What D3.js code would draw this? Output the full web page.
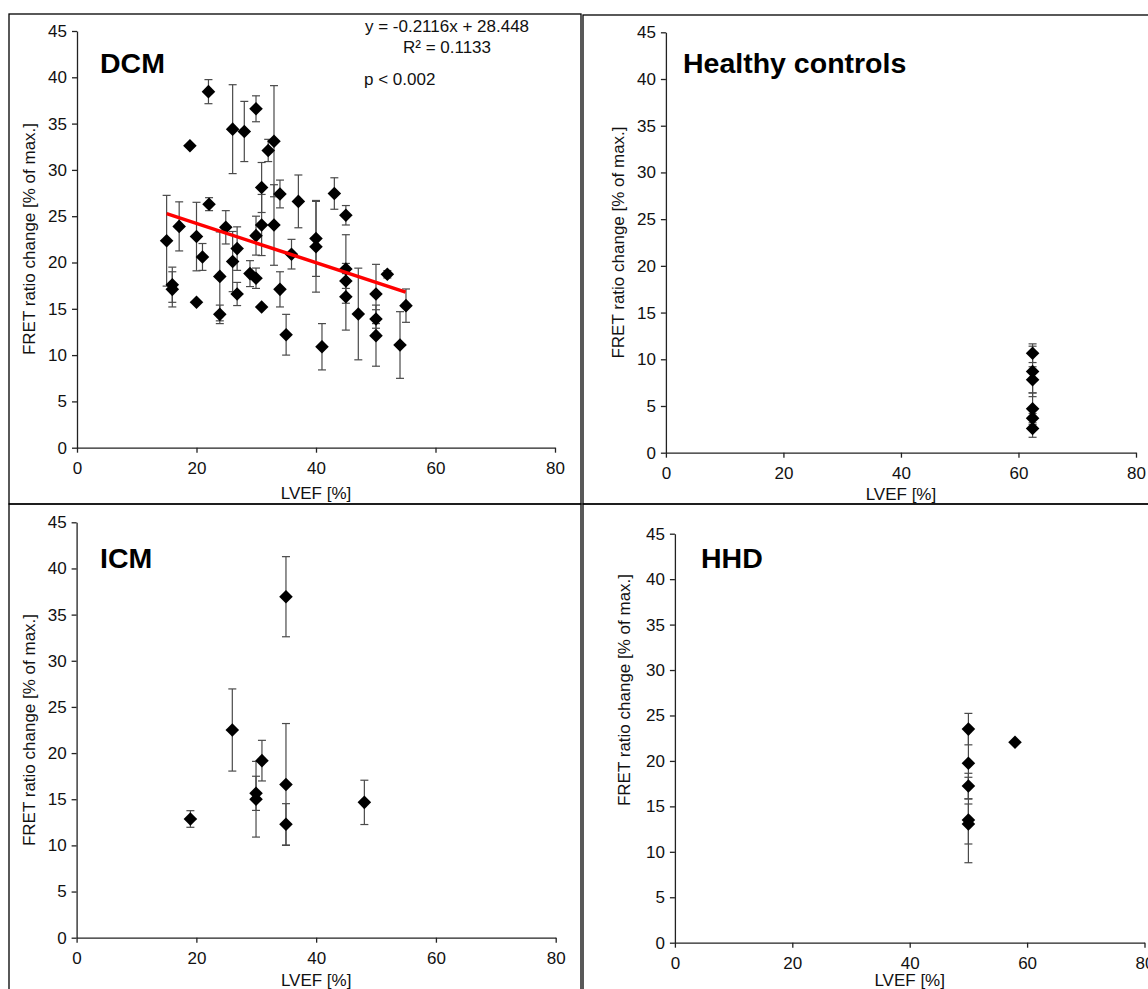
<!DOCTYPE html>
<html>
<head>
<meta charset="utf-8">
<script src="https://cdn.jsdelivr.net/npm/d3@7"></script>
<style>
  body { margin: 0; background: #fff; }
  svg { display: block; font-family: "Liberation Sans", Arial, sans-serif; }
</style>
</head>
<body>
<svg id="chart" width="1148" height="989"></svg>
<script>
// Tick values shared by all four panels
var xTicks = [0, 20, 40, 60, 80];
var yTicks = [0, 5, 10, 15, 20, 25, 30, 35, 40, 45];

// DCM: LVEF [%], FRET ratio change [% of max.], error bar half-length
var dcmLvef = [15.0, 15.95, 15.95, 17.1, 18.9, 20.0, 20.0, 21.0, 22.0, 22.1, 23.9, 23.9,
  24.9, 26.05, 26.05, 26.8, 26.8, 28.0, 28.95, 29.96, 29.96, 29.96, 30.9, 30.9, 30.9,
  32.0, 32.97, 32.97, 33.97, 33.97, 35.0, 35.9, 37.05, 40.0, 40.0, 41.0, 43.07, 45.0,
  45.0, 45.0, 45.0, 47.08, 50.04, 50.04, 50.04, 51.94, 54.06, 55.06];
var dcmFret = [22.35, 17.6, 17.1, 23.9, 32.6, 22.8, 15.7, 20.6, 38.45, 26.3, 18.5, 14.4,
  23.8, 34.4, 20.1, 21.5, 16.6, 34.15, 18.8, 36.6, 22.9, 18.3, 28.1, 24.05, 15.2,
  32.1, 33.1, 24.05, 27.4, 17.1, 12.2, 20.9, 26.6, 22.6, 21.7, 10.9, 27.45, 25.1,
  19.3, 18.0, 16.3, 14.44, 16.6, 13.9, 12.1, 18.73, 11.09, 15.34];
var dcmErr = [4.9, 1.9, 1.9, 2.65, 0, 3.7, 0, 1.45, 1.3, 0.7, 4.8, 1.0,
  1.8, 4.8, 3.25, 2.35, 1.25, 3.25, 1.4, 1.4, 2.1, 1.1, 2.7, 3.3, 0,
  1.2, 6.0, 4.35, 1.5, 1.9, 2.2, 1.6, 2.85, 4.1, 4.9, 2.5, 1.7, 1.05,
  3.7, 0.8, 3.6, 4.95, 3.2, 1.0, 3.3, 0.4, 3.6, 1.8];

// DCM linear fit shown on the chart
var fitSlope = -0.2116;
var fitIntercept = 28.448;
var fitRange = [15, 55];
var fitLabels = ["y = -0.2116x + 28.448", "R\u00b2 = 0.1133"];
var pLabel = "p < 0.002";

// Healthy controls
var hcLvef = [62.4, 62.4, 62.4, 62.4, 62.4, 62.4];
var hcFret = [10.65, 8.7, 7.8, 4.7, 3.7, 2.6];
var hcErr = [1.0, 2.7, 1.4, 1.7, 0.5, 0.95];

// ICM
var icmLvef = [19.0, 26.0, 29.96, 29.96, 30.95, 34.96, 34.96, 34.96, 48.05];
var icmFret = [12.86, 22.5, 15.64, 15.0, 19.18, 36.94, 16.6, 12.28, 14.66];
var icmErr = [0.9, 4.45, 1.85, 4.1, 2.2, 4.34, 6.6, 2.24, 2.4];

// HHD
var hhdLvef = [50.0, 50.0, 50.0, 50.0, 50.0, 57.94];
var hhdFret = [23.5, 19.74, 17.24, 13.5, 13.06, 22.05];
var hhdErr = [1.73, 3.93, 1.4, 4.7, 2.2, 0];

var svg = d3.select("#chart");

// Frames around the four panels
var frame = svg.append("g")
  .attr("fill", "none")
  .attr("stroke", "#000")
  .attr("stroke-width", 1.3);
frame.append("rect").attr("x", 9).attr("y", 14).attr("width", 572).attr("height", 490);
frame.append("rect").attr("x", 583).attr("y", 15).attr("width", 600).attr("height", 489);
frame.append("rect").attr("x", 9).attr("y", 504).attr("width", 572).attr("height", 520);
frame.append("rect").attr("x", 583).attr("y", 504).attr("width", 600).attr("height", 520);

// Diamond marker as a symbol type
var diamond = {
  draw: function(context, size) {
    var r = Math.sqrt(size / 2);
    context.moveTo(0, -r);
    context.lineTo(r, 0);
    context.lineTo(0, r);
    context.lineTo(-r, 0);
    context.closePath();
  }
};

var drawPanel = function(p) {
  var x = d3.scaleLinear().domain([0, 80]).range([p.x0, p.x1]);
  var y = d3.scaleLinear().domain([0, 45]).range([p.y0, p.y1]);

  var data = p.lvef.map(function(d, i) {
    return {lvef: d, fret: p.fret[i], err: p.err[i]};
  });

  var g = svg.append("g");

  // Axes
  var yAxis = g.append("g")
    .attr("transform", "translate(" + p.x0 + ",0)")
    .call(d3.axisLeft(y).tickValues(yTicks).tickSize(5).tickSizeOuter(0).tickPadding(5));
  var xAxis = g.append("g")
    .attr("transform", "translate(0," + p.y0 + ")")
    .call(d3.axisBottom(x).tickValues(xTicks).tickSize(5).tickSizeOuter(0).tickPadding(9));
  [xAxis, yAxis].forEach(function(a) {
    a.attr("font-family", null).attr("font-size", 17);
    a.select(".domain").attr("stroke", "#222").attr("stroke-width", 1.3);
    a.selectAll(".tick line").attr("stroke", "#222").attr("stroke-width", 1.3);
    a.selectAll(".tick text").attr("fill", "#111");
  });

  // Axis titles
  g.append("text")
    .attr("x", (p.x0 + p.x1) / 2)
    .attr("y", p.xTitleY)
    .attr("text-anchor", "middle")
    .attr("font-size", 17)
    .attr("fill", "#111")
    .text("LVEF [%]");
  g.append("text")
    .attr("transform", "translate(" + p.yTitleX + "," + p.yTitleY + ") rotate(-90)")
    .attr("text-anchor", "middle")
    .attr("font-size", 17)
    .attr("fill", "#111")
    .text("FRET ratio change [% of max.]");

  // Panel title
  g.append("text")
    .attr("x", p.titleX)
    .attr("y", p.titleY)
    .attr("font-size", 28.5)
    .attr("font-weight", "bold")
    .attr("fill", "#000")
    .text(p.title);

  // Error bars
  var bars = g.append("g")
    .attr("stroke", "#4a4a4a")
    .attr("stroke-width", 1.2)
    .selectAll("g")
    .data(data.filter(function(d) { return d.err > 0; }))
    .enter().append("g");
  bars.append("line")
    .attr("x1", function(d) { return x(d.lvef); })
    .attr("x2", function(d) { return x(d.lvef); })
    .attr("y1", function(d) { return y(d.fret + d.err); })
    .attr("y2", function(d) { return y(d.fret - d.err); });
  bars.append("line")
    .attr("x1", function(d) { return x(d.lvef) - 4; })
    .attr("x2", function(d) { return x(d.lvef) + 4; })
    .attr("y1", function(d) { return y(d.fret + d.err); })
    .attr("y2", function(d) { return y(d.fret + d.err); });
  bars.append("line")
    .attr("x1", function(d) { return x(d.lvef) - 4; })
    .attr("x2", function(d) { return x(d.lvef) + 4; })
    .attr("y1", function(d) { return y(d.fret - d.err); })
    .attr("y2", function(d) { return y(d.fret - d.err); });

  // Markers
  g.append("g")
    .selectAll("path")
    .data(data)
    .enter().append("path")
    .attr("transform", function(d) { return "translate(" + x(d.lvef) + "," + y(d.fret) + ")"; })
    .attr("d", d3.symbol().type(diamond).size(92))
    .attr("fill", "#000");

  // Trend line and its labels (DCM only)
  if (p.fit) {
    var line = d3.line()
      .x(function(d) { return x(d); })
      .y(function(d) { return y(fitSlope * d + fitIntercept); });
    g.append("path")
      .datum(fitRange)
      .attr("d", line)
      .attr("fill", "none")
      .attr("stroke", "#ff0000")
      .attr("stroke-width", 3.5);
    g.selectAll(".fitlabel")
      .data(fitLabels)
      .enter().append("text")
      .attr("x", 447)
      .attr("y", function(d, i) { return 32 + i * 20.7; })
      .attr("text-anchor", "middle")
      .attr("font-size", 17)
      .attr("fill", "#111")
      .text(function(d) { return d; });
    g.append("text")
      .attr("x", 364)
      .attr("y", 85)
      .attr("font-size", 17)
      .attr("fill", "#111")
      .text(pLabel);
  }
};

drawPanel({title: "DCM", lvef: dcmLvef, fret: dcmFret, err: dcmErr,
  x0: 77, x1: 555, y0: 447.7, y1: 31, titleX: 100, titleY: 73,
  yTitleX: 34.5, yTitleY: 239, xTitleY: 499, fit: true});
drawPanel({title: "Healthy controls", lvef: hcLvef, fret: hcFret, err: hcErr,
  x0: 665.9, x1: 1136, y0: 452.7, y1: 32.3, titleX: 683, titleY: 73,
  yTitleX: 623.5, yTitleY: 242.5, xTitleY: 500});
drawPanel({title: "ICM", lvef: icmLvef, fret: icmFret, err: icmErr,
  x0: 76.6, x1: 555.7, y0: 937.7, y1: 522.3, titleX: 100, titleY: 568,
  yTitleX: 35, yTitleY: 730, xTitleY: 986});
drawPanel({title: "HHD", lvef: hhdLvef, fret: hhdFret, err: hhdErr,
  x0: 674.9, x1: 1144.5, y0: 942.7, y1: 533.7, titleX: 701, titleY: 568,
  yTitleX: 629.5, yTitleY: 690, xTitleY: 986});
</script>
</body>
</html>
